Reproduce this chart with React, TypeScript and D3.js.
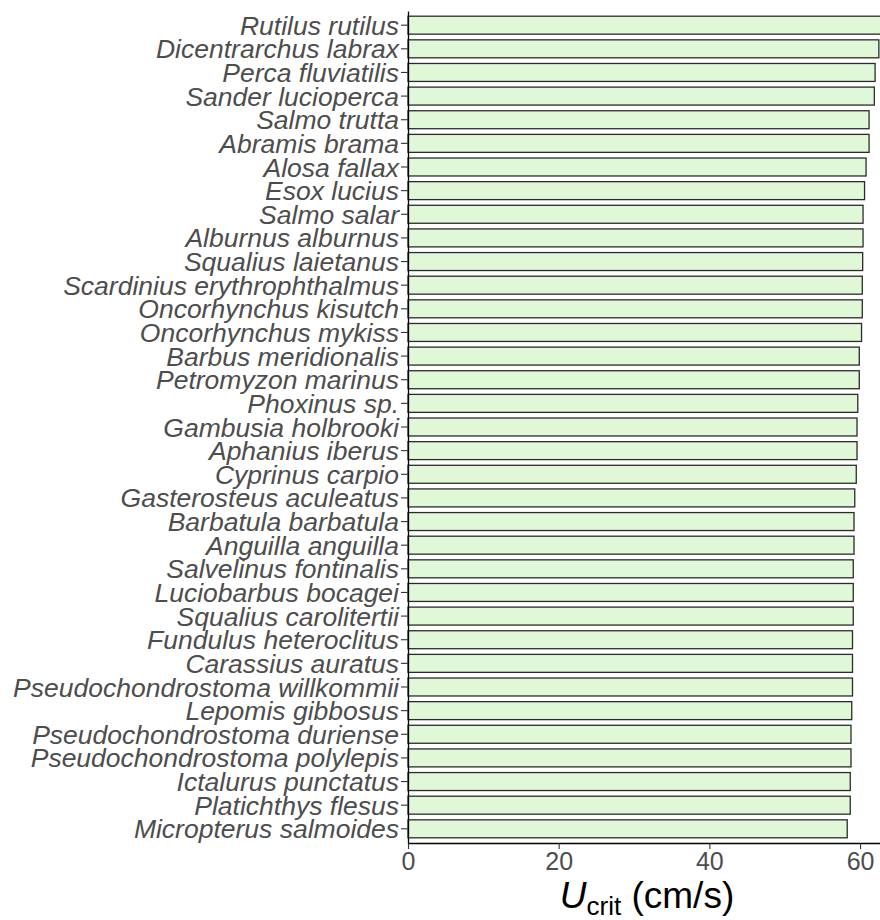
import { useRef, useEffect } from "react";
import * as d3 from "d3";

const species = [
  "Rutilus rutilus", "Dicentrarchus labrax", "Perca fluviatilis", "Sander lucioperca",
  "Salmo trutta", "Abramis brama", "Alosa fallax", "Esox lucius", "Salmo salar",
  "Alburnus alburnus", "Squalius laietanus", "Scardinius erythrophthalmus",
  "Oncorhynchus kisutch", "Oncorhynchus mykiss", "Barbus meridionalis",
  "Petromyzon marinus", "Phoxinus sp.", "Gambusia holbrooki", "Aphanius iberus",
  "Cyprinus carpio", "Gasterosteus aculeatus", "Barbatula barbatula",
  "Anguilla anguilla", "Salvelinus fontinalis", "Luciobarbus bocagei",
  "Squalius carolitertii", "Fundulus heteroclitus", "Carassius auratus",
  "Pseudochondrostoma willkommii", "Lepomis gibbosus", "Pseudochondrostoma duriense",
  "Pseudochondrostoma polylepis", "Ictalurus punctatus", "Platichthys flesus",
  "Micropterus salmoides",
];

const ucrit = [
  63.5, 62.5, 62.0, 61.9, 61.2, 61.2, 60.8, 60.6, 60.4, 60.4, 60.35, 60.3,
  60.3, 60.2, 59.9, 59.9, 59.7, 59.6, 59.6, 59.5, 59.3, 59.2, 59.2, 59.1, 59.1,
  59.1, 59.0, 59.0, 59.0, 58.9, 58.8, 58.8, 58.7, 58.7, 58.3,
];

const xTicks = [0, 20, 40, 60];

function App() {
  const svgRef = useRef(null);

  useEffect(() => {
    const w = 880;
    const left = 408;
    const top = 11;
    const bottom = 843;
    const font = "'Liberation Sans', Arial, sans-serif";

    const svg = d3.select(svgRef.current);
    svg.selectAll("*").remove();

    const x = d3.scaleLinear().domain([0, 62.65]).range([left, w]);
    const y = d3.scaleBand()
      .domain(species)
      .range([top, bottom])
      .paddingInner(0.24)
      .paddingOuter(0.22);

    const data = species.map((s, i) => ({ name: s, value: ucrit[i] }));

    svg.append("g")
      .selectAll("rect")
      .data(data)
      .enter()
      .append("rect")
      .attr("x", x(0))
      .attr("y", (d) => y(d.name))
      .attr("width", (d) => x(d.value) - x(0))
      .attr("height", y.bandwidth())
      .attr("fill", "#e0f7d8")
      .attr("stroke", "#2b2b2b")
      .attr("stroke-width", 1.3);

    // y axis
    const yAxis = svg.append("g")
      .attr("transform", `translate(${left},0)`)
      .call(d3.axisLeft(y).tickSize(7).tickPadding(2).tickSizeOuter(0));
    yAxis.select(".domain").attr("stroke", "#000").attr("stroke-width", 1.3);
    yAxis.selectAll(".tick line").attr("stroke", "#333").attr("stroke-width", 1.1);
    yAxis.selectAll(".tick text")
      .attr("fill", "#4d4d4d")
      .style("font-family", font)
      .style("font-style", "italic")
      .style("font-size", "26.5px")
      .attr("dy", "0.36em");

    // x axis
    const xAxis = svg.append("g")
      .attr("transform", `translate(0,${bottom})`)
      .call(d3.axisBottom(x).tickValues(xTicks).tickSize(6).tickPadding(3).tickSizeOuter(0));
    xAxis.select(".domain").attr("stroke", "#000").attr("stroke-width", 1.3);
    xAxis.selectAll(".tick line").attr("stroke", "#333").attr("stroke-width", 1.1);
    xAxis.selectAll(".tick text")
      .attr("fill", "#4d4d4d")
      .style("font-family", font)
      .style("font-size", "25px");

    // x title
    const title = svg.append("text")
      .attr("x", 647)
      .attr("y", 908)
      .attr("text-anchor", "middle")
      .attr("fill", "#000")
      .style("font-family", font)
      .style("font-size", "37px");
    title.append("tspan").style("font-style", "italic").text("U");
    title.append("tspan").attr("dy", 7).style("font-size", "26px").text("crit");
    title.append("tspan").attr("dy", -7).text(" (cm/s)");
  }, []);

  return (
    <div>
      <svg
        ref={svgRef}
        width={880}
        height={920}
        style={{ position: "absolute", left: 0, top: 0, overflow: "hidden", background: "#fff" }}
      />
    </div>
  );
}

export default App;
